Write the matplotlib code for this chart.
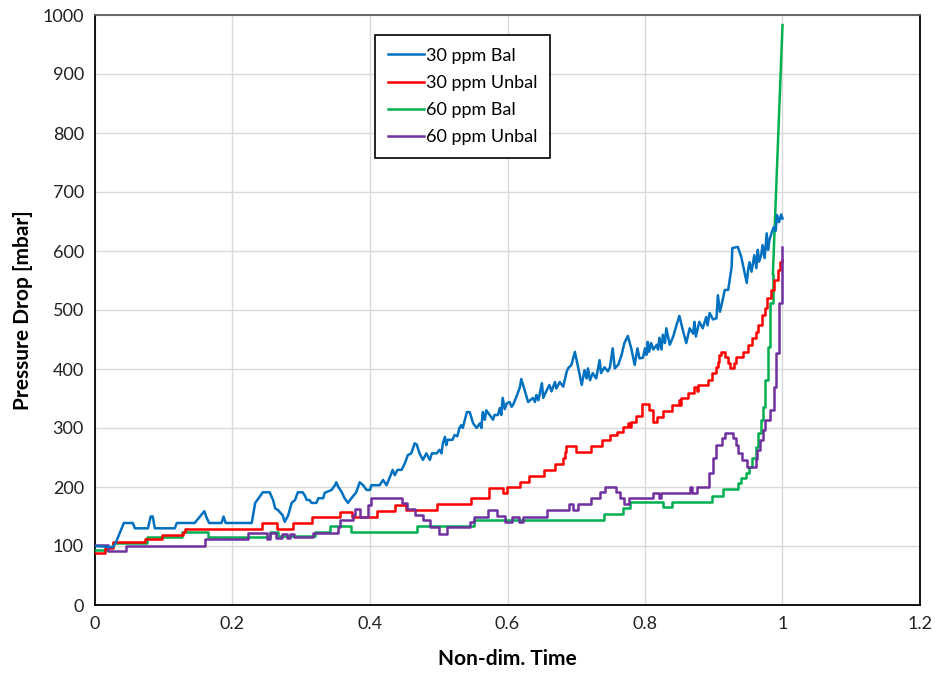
import numpy as np
import matplotlib
matplotlib.use('Agg')
import matplotlib.pyplot as plt

plt.rcParams['font.family'] = ['Lato', 'DejaVu Sans']

# 30 ppm Bal (noisy trace, plain line)
bal30_t = [0, 0.026, 0.03, 0.036, 0.042, 0.055, 0.058, 0.077, 0.081, 0.084, 0.087, 0.116, 0.119,
           0.145, 0.152, 0.159, 0.162, 0.166, 0.184, 0.187, 0.19, 0.228, 0.233, 0.238, 0.244, 0.251,
           0.254, 0.259, 0.262, 0.266, 0.273, 0.276, 0.281, 0.286, 0.291, 0.295, 0.302, 0.305, 0.308,
           0.312, 0.315, 0.322, 0.325, 0.332, 0.334, 0.344, 0.349, 0.351, 0.354, 0.359, 0.363, 0.368,
           0.373, 0.38, 0.385, 0.39, 0.395, 0.40, 0.402, 0.414, 0.419, 0.424, 0.429, 0.433, 0.436,
           0.44, 0.446, 0.451, 0.455, 0.46, 0.465, 0.468, 0.472, 0.477, 0.482, 0.487, 0.49, 0.497,
           0.501, 0.504, 0.506, 0.509, 0.511, 0.513, 0.52, 0.523, 0.527, 0.53, 0.533, 0.535, 0.538,
           0.541, 0.545, 0.55, 0.555, 0.56, 0.562, 0.564, 0.567, 0.569, 0.571, 0.579, 0.581, 0.586,
           0.589, 0.591, 0.593, 0.596, 0.599, 0.603, 0.606, 0.608, 0.613, 0.618, 0.62, 0.625, 0.63,
           0.637, 0.64, 0.642, 0.645, 0.65, 0.652, 0.657, 0.661, 0.664, 0.669, 0.671, 0.676, 0.681,
           0.686, 0.688, 0.693, 0.698, 0.702, 0.708, 0.712, 0.715, 0.717, 0.72, 0.724, 0.729, 0.734,
           0.736, 0.741, 0.746, 0.749, 0.753, 0.756, 0.761, 0.766, 0.77, 0.775, 0.78, 0.785, 0.789,
           0.792, 0.797, 0.80, 0.802, 0.804, 0.806, 0.809, 0.812, 0.817, 0.819, 0.821, 0.824, 0.826,
           0.829, 0.831, 0.836, 0.841, 0.846, 0.85, 0.855, 0.86, 0.865, 0.87, 0.872, 0.874, 0.879,
           0.884, 0.889, 0.891, 0.894, 0.899, 0.904, 0.906, 0.909, 0.913, 0.916, 0.921, 0.926, 0.927,
           0.935, 0.94, 0.945, 0.948, 0.95, 0.952, 0.955, 0.957, 0.959, 0.962, 0.964, 0.966, 0.969,
           0.971, 0.974, 0.977, 0.979, 0.981, 0.984, 0.987, 0.99, 0.992, 0.995, 0.998, 1.0]
bal30_p = [100, 98, 105, 122, 139, 139, 130, 130, 150, 150, 130, 130, 139,
           139, 149, 159, 149, 139, 139, 150, 139, 139, 173, 181, 191, 191,
           191, 178, 164, 161, 152, 141, 152, 173, 178, 191, 191, 186, 178,
           178, 173, 173, 181, 181, 190, 195, 203, 208, 200, 191, 181, 173,
           181, 191, 208, 203, 195, 195, 203, 203, 212, 203, 217, 229, 220,
           229, 229, 241, 254, 257, 274, 272, 257, 246, 257, 246, 257, 257,
           263, 257, 274, 285, 271, 280, 280, 288, 286, 300, 305, 300, 314,
           327, 327, 308, 300, 308, 300, 327, 314, 330, 327, 314, 322, 322,
           334, 322, 351, 332, 342, 344, 336, 339, 353, 369, 383, 364, 344,
           351, 344, 356, 347, 376, 351, 364, 373, 362, 378, 367, 378, 370,
           395, 401, 407, 429, 407, 373, 398, 384, 401, 381, 393, 384, 415,
           393, 403, 396, 403, 435, 401, 407, 424, 444, 456, 435, 407, 435,
           418, 419, 435, 424, 446, 429, 444, 433, 441, 433, 453, 433, 458,
           444, 469, 441, 455, 475, 490, 466, 444, 469, 460, 480, 455, 480,
           469, 488, 474, 495, 484, 486, 525, 497, 517, 534, 534, 573, 605,
           607, 590, 563, 546, 568, 581, 565, 579, 593, 571, 602, 582, 593,
           610, 588, 630, 602, 619, 630, 640, 634, 661, 649, 662, 655]

# 30 ppm Unbal (level changes)
unbal30_t = [0, 0.015, 0.026, 0.073, 0.097, 0.128, 0.131, 0.243, 0.265, 0.288, 0.315, 0.356, 0.374,
             0.41, 0.437, 0.452, 0.498, 0.547, 0.573, 0.593, 0.599, 0.618, 0.631, 0.653, 0.669,
             0.68, 0.683, 0.685, 0.70, 0.722, 0.737, 0.749, 0.759, 0.768, 0.776, 0.778, 0.779,
             0.787, 0.795, 0.806, 0.812, 0.818, 0.826, 0.84, 0.849, 0.851, 0.853, 0.862, 0.871,
             0.875, 0.877, 0.892, 0.897, 0.903, 0.906, 0.907, 0.911, 0.917, 0.921, 0.924, 0.929,
             0.933, 0.942, 0.95, 0.955, 0.961, 0.965, 0.97, 0.974, 0.977, 0.983, 0.988, 0.994,
             0.996, 1.0]
unbal30_p = [88, 97, 107, 112, 119, 124, 129, 139, 129, 139, 149, 158, 149,
             159, 169, 161, 171, 181, 198, 190, 200, 208, 219, 229, 239,
             249, 259, 269, 259, 269, 280, 288, 293, 302, 308, 302, 310,
             320, 341, 330, 310, 319, 329, 339, 347, 339, 351, 359, 369,
             362, 373, 381, 393, 403, 412, 424, 429, 420, 410, 401, 410,
             420, 429, 441, 453, 463, 475, 492, 503, 520, 534, 551, 568,
             581, 585]

# 60 ppm Bal
bal60_t = [0, 0.018, 0.026, 0.076, 0.127, 0.164, 0.254, 0.266, 0.32, 0.342, 0.373, 0.468, 0.552,
           0.74, 0.768, 0.778, 0.826, 0.84, 0.897, 0.913, 0.935, 0.94, 0.947, 0.952, 0.955,
           0.962, 0.965, 0.969, 0.972, 0.975, 0.979, 0.982, 0.986]
bal60_p = [93, 98, 105, 115, 124, 115, 124, 117, 124, 134, 124, 134, 144,
           154, 164, 175, 166, 175, 185, 197, 207, 215, 224, 234, 249,
           268, 292, 314, 336, 381, 437, 512, 560]
bal60_tail_t = [0.986, 1.0]
bal60_tail_p = [560, 983]

# 60 ppm Unbal
unbal60_t = [0, 0.019, 0.045, 0.16, 0.222, 0.25, 0.255, 0.263, 0.272, 0.279, 0.284, 0.29, 0.317,
             0.354, 0.357, 0.375, 0.378, 0.385, 0.397, 0.402, 0.447, 0.454, 0.466, 0.477, 0.487,
             0.501, 0.512, 0.545, 0.552, 0.571, 0.585, 0.596, 0.607, 0.617, 0.622, 0.657, 0.69,
             0.695, 0.703, 0.722, 0.734, 0.742, 0.758, 0.763, 0.769, 0.777, 0.811, 0.82, 0.824,
             0.865, 0.868, 0.876, 0.893, 0.899, 0.904, 0.912, 0.916, 0.928, 0.932, 0.936, 0.941,
             0.948, 0.961, 0.963, 0.967, 0.972, 0.975, 0.982, 0.988, 0.991, 0.995, 1.0]
unbal60_p = [102, 91, 100, 112, 122, 112, 122, 113, 121, 113, 121, 115, 122,
             132, 144, 152, 163, 149, 169, 181, 173, 163, 152, 144, 132,
             120, 132, 141, 149, 161, 151, 141, 149, 141, 149, 161, 171,
             161, 171, 181, 191, 200, 191, 181, 171, 181, 190, 181, 190,
             200, 190, 200, 224, 249, 271, 283, 292, 283, 271, 257, 246,
             234, 247, 263, 280, 297, 314, 331, 369, 427, 512, 607]

c_blue = '#0070C0'
c_red = '#FF0000'
c_green = '#00B050'
c_purple = '#7030A0'

fig = plt.figure(figsize=(9.35, 6.73), dpi=100)
ax = fig.add_axes([95/935, 1 - 605/673, 825/935, 590/673])

lw = 1.8
ax.plot(bal30_t, bal30_p, color=c_blue, lw=lw, label='30 ppm Bal', zorder=5)
ax.plot(unbal30_t, unbal30_p, color=c_red, lw=lw, drawstyle='steps-post', label='30 ppm Unbal', zorder=4)
ax.plot(bal60_t, bal60_p, color=c_green, lw=lw, drawstyle='steps-post', label='60 ppm Bal', zorder=3)
ax.plot(bal60_tail_t, bal60_tail_p, color=c_green, lw=lw, zorder=3)
ax.plot(unbal60_t, unbal60_p, color=c_purple, lw=lw, drawstyle='steps-post', label='60 ppm Unbal', zorder=4)

ax.set_xlim(0, 1.2)
ax.set_ylim(0, 1000)
ax.set_xticks(np.arange(0, 1.21, 0.2))
ax.set_xticklabels(['0', '0.2', '0.4', '0.6', '0.8', '1', '1.2'])
ax.set_yticks(np.arange(0, 1001, 100))
ax.tick_params(length=0, labelsize=13, pad=8, colors='#222222')
ax.grid(True, color='#d9d9d9', lw=1)
ax.set_axisbelow(True)
for s in ['left', 'bottom', 'right']:
    ax.spines[s].set_color('black')
    ax.spines[s].set_linewidth(1.3)
ax.spines['top'].set_color('#595959')
ax.spines['top'].set_linewidth(1.3)

ax.set_xlabel('Non-dim. Time', fontsize=15, fontweight='bold', labelpad=12)
ax.set_ylabel('Pressure Drop [mbar]', fontsize=15, fontweight='bold', labelpad=7)

leg = ax.legend(loc='upper left', bbox_to_anchor=(280/825, 1 - 20/590), fancybox=False,
                edgecolor='black', fontsize=13, handlelength=2.0, handletextpad=0.1,
                borderpad=0.7, labelspacing=0.62, borderaxespad=0)
leg.get_frame().set_linewidth(1.2)
leg.get_frame().set_alpha(1)

fig.savefig('out.png', dpi=100)
